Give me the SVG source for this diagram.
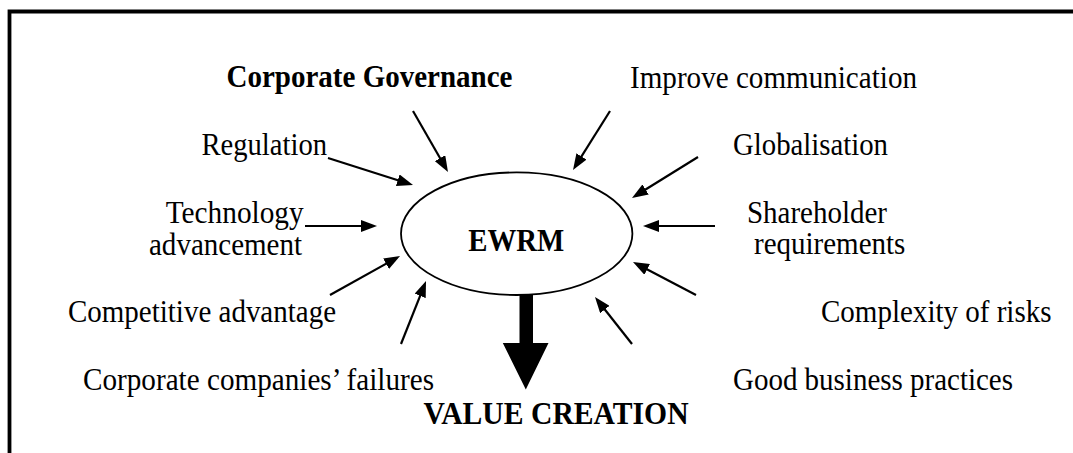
<svg xmlns="http://www.w3.org/2000/svg" width="1073" height="453" viewBox="0 0 1073 453">
<style>
text{font-family:"Liberation Serif","Times New Roman",serif;font-size:30.5px;fill:#000}
.b{font-weight:bold}
.c{stroke:#000;stroke-width:2.2;fill:none;marker-end:url(#ah)}
</style>
<defs>
<marker id="ah" markerUnits="userSpaceOnUse" markerWidth="16" markerHeight="12" refX="10" refY="6" orient="auto" viewBox="0 0 16 12">
<path d="M0,0 L16,6 L0,12 z" fill="#000"/>
</marker>
</defs>
<rect width="1073" height="453" fill="#fff"/>
<path d="M9.5,453 V11.5 H1073" fill="none" stroke="#000" stroke-width="3.8"/>
<g id="ewrm">
<ellipse cx="516.7" cy="233.7" rx="115.7" ry="61.3" fill="none" stroke="#000" stroke-width="1.8"/>
<text class="b" x="468.3" y="250.7" textLength="96" lengthAdjust="spacingAndGlyphs">EWRM</text>
</g>
<g id="corporate-governance"><text class="b" x="226.5" y="87" textLength="286" lengthAdjust="spacingAndGlyphs">Corporate Governance</text></g>
<g id="improve-communication"><text x="630" y="87.5" textLength="287" lengthAdjust="spacingAndGlyphs">Improve communication</text></g>
<g id="regulation"><text x="201.5" y="155" textLength="125.5" lengthAdjust="spacingAndGlyphs">Regulation</text></g>
<g id="globalisation"><text x="733" y="155" textLength="155" lengthAdjust="spacingAndGlyphs">Globalisation</text></g>
<g id="technology"><text x="165.7" y="223" textLength="138" lengthAdjust="spacingAndGlyphs">Technology</text><text x="149" y="255" textLength="153" lengthAdjust="spacingAndGlyphs">advancement</text></g>
<g id="shareholder"><text x="747" y="223" textLength="140" lengthAdjust="spacingAndGlyphs">Shareholder</text><text x="754" y="254" textLength="151.4" lengthAdjust="spacingAndGlyphs">requirements</text></g>
<g id="competitive"><text x="68" y="321.7" textLength="268" lengthAdjust="spacingAndGlyphs">Competitive advantage</text></g>
<g id="complexity"><text x="821" y="321.7" textLength="230.5" lengthAdjust="spacingAndGlyphs">Complexity of risks</text></g>
<g id="failures"><text x="83" y="390" textLength="351" lengthAdjust="spacingAndGlyphs">Corporate companies’ failures</text></g>
<g id="good-practices"><text x="733" y="390" textLength="280" lengthAdjust="spacingAndGlyphs">Good business practices</text></g>
<g id="value-creation"><text class="b" x="423.6" y="424" textLength="265" lengthAdjust="spacingAndGlyphs">VALUE CREATION</text></g>
<g id="connectors">
<line class="c" x1="413" y1="111" x2="445.0" y2="166.8"/>
<line class="c" x1="610" y1="111" x2="576.2" y2="164.9"/>
<line class="c" x1="328" y1="158" x2="407.3" y2="183.2"/>
<line class="c" x1="698" y1="157" x2="637.1" y2="194.8"/>
<line class="c" x1="305" y1="226" x2="371" y2="226"/>
<line class="c" x1="715" y1="226" x2="649" y2="226"/>
<line class="c" x1="330" y1="295" x2="394.8" y2="258.9"/>
<line class="c" x1="696" y1="295" x2="638.3" y2="264.8"/>
<line class="c" x1="401" y1="344" x2="423.8" y2="286.6"/>
<line class="c" x1="632" y1="344" x2="598.7" y2="301.7"/>
<polygon points="519.5,294 533,294 533,343 548.5,343 525.8,389.5 502.8,343 519.5,343" fill="#000"/>
</g>
</svg>
